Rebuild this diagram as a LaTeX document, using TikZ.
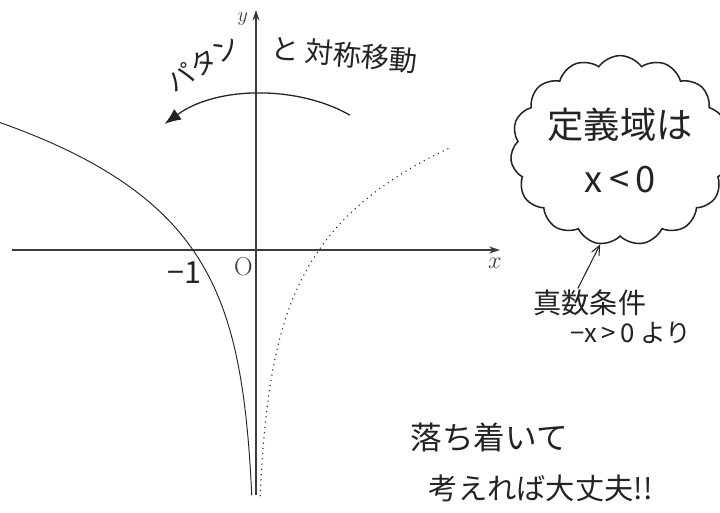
\documentclass[tikz,border=0pt]{standalone}
\usepackage{fontspec}
\newfontfamily\jpfont{Noto Sans CJK JP}
\usetikzlibrary{shapes.symbols, arrows.meta, calc}
\definecolor{colInk}{RGB}{35,35,35}
\definecolor{colAxis}{RGB}{60,60,60}
\tikzset{
  axis/.style={
    -{Stealth[length=9pt,width=6pt]}, line width=0.9pt, color=colAxis
  },
  axisLabel/.style={
    font=\fontsize{22}{26}\selectfont, text=colAxis, inner sep=1pt
  },
  graphLine/.style={
    line width=0.8pt, color=colInk
  },
  mirrorLine/.style={
    line width=1.3pt, color=colInk, line cap=round,
    dash pattern=on 0pt off 4.5pt
  },
  hand/.style={
    font=\jpfont, text=colInk, inner sep=1pt
  },
  cloudBox/.style={
    cloud, cloud puffs=15, cloud puff arc=110, aspect=1.2,
    draw=colInk, line width=1.3pt,
    minimum width=4.9cm, minimum height=4.2cm, inner sep=0pt,
    align=center, font=\jpfont\fontsize{31}{46}\selectfont, text=colInk
  },
  flipArr/.style={
    -{Latex[length=14pt,width=11pt]}, line width=1.1pt, color=colInk
  },
  thinArr/.style={
    -{Straight Barb[length=8pt,width=7pt]}, line width=0.9pt, color=colInk
  }
}
\begin{document}
\begin{tikzpicture}[x=1.89cm, y=1.89cm]
  \useasboundingbox (-4.063,-4.159) rectangle (7.365,3.968);

  % axes
  \draw[axis] (-3.87,0) -- (3.87,0);
  \draw[axis] (0,-3.89) -- (0,3.81);
  \node[axisLabel] (xlab) at (3.79,-0.21) {$x$};
  \node[axisLabel, font=\fontsize{19}{22}\selectfont] (ylab) at (-0.21,3.66) {$y$};
  \node[axisLabel] (orig) at (-0.2,-0.26) {O};
  \node[hand, font=\jpfont\fontsize{26}{30}\selectfont] (mone) at (-1.13,-0.36) {−1};

  % y = log2(-x) and its mirror image
  \draw[graphLine] plot[domain=-3.9:2.03, samples=120, smooth] ({-pow(2,\x)},\x);
  \draw[mirrorLine] plot[domain=-3.9:1.62, samples=120, smooth] ({pow(2,\x)},\x);

  % flip arrow
  \coordinate (flipS) at (1.49,2.14);
  \coordinate (flipE) at (-1.45,2.0);
  \draw[flipArr] (flipS) .. controls (0.7,2.6) and (-0.6,2.62) .. (flipE);
  \node[hand, font=\jpfont\fontsize{23}{26}\selectfont, rotate=32] (pata) at (-0.84,2.97) {パタン};
  \node[hand, font=\jpfont\fontsize{24}{28}\selectfont, rotate=-5] (sym) at (1.40,3.10) {と 対称移動};

  % domain note
  \node[cloudBox] (dom) at (5.78,1.58) {定義域は\\x\,<\,0};
  \node[hand, font=\jpfont\fontsize{24}{28}\selectfont] (cond) at (5.30,-0.84) {真数条件};
  \node[hand, font=\jpfont\fontsize{22}{26}\selectfont] (condx) at (5.95,-1.31) {−x\,>\,0 より};
  \draw[thinArr] (cond.130) -- (dom.258);

  \node[hand, font=\jpfont\fontsize{27}{30}\selectfont] (calm) at (3.70,-2.98) {落ち着いて};
  \node[hand, font=\jpfont\fontsize{25}{30}\selectfont] (okay) at (4.52,-3.78) {考えれば大丈夫!!};
\end{tikzpicture}
\end{document}
